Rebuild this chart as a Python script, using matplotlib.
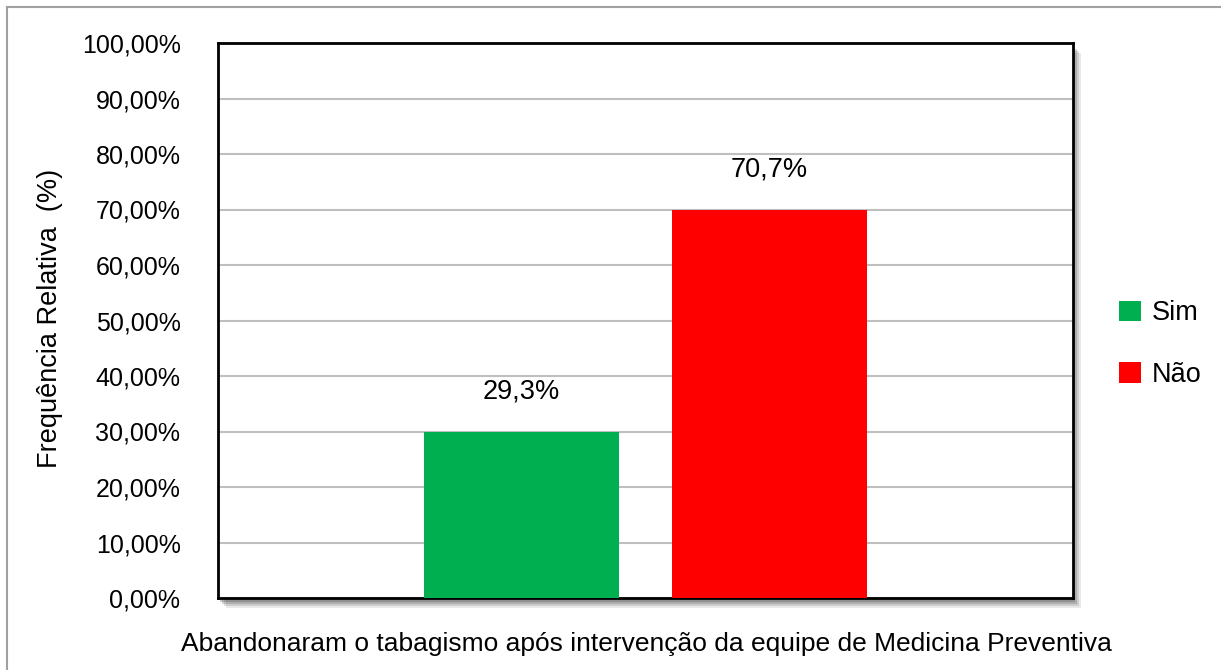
import matplotlib
matplotlib.use("Agg")
import matplotlib.pyplot as plt
from matplotlib.patches import Patch, Rectangle
from matplotlib.lines import Line2D

plt.rcParams['font.family'] = ['Liberation Sans', 'DejaVu Sans']

categories = ["Sim", "Não"]
heights = [30, 70]            # bar heights as drawn
labels = ["29,3%", "70,7%"]   # data labels as printed
colors = ["#00B050", "#FF0000"]
positions = [-0.29, 0.29]
yticks = list(range(0, 101, 10))
ytick_labels = ["%d,00%%" % v for v in yticks]

W, H = 1221, 670
fig = plt.figure(figsize=(W / 100, H / 100), dpi=100)

# outer frame (left and top only visible)
fig.add_artist(Line2D([7 / W, 7 / W], [0, 1 - 7 / H], color="#A0A0A0", lw=1.5))
fig.add_artist(Line2D([7 / W, 1], [1 - 7 / H, 1 - 7 / H], color="#A0A0A0", lw=1.5))

x0, x1, ytop, ybot = 218, 1073, 43, 598
ax = fig.add_axes([x0 / W, 1 - ybot / H, (x1 - x0) / W, (ybot - ytop) / H])

# drop shadow behind the plot area
for off, a in [(9, 0.12), (7, 0.18), (5, 0.25), (3, 0.3)]:
    fig.add_artist(Rectangle(((x0 + off - 1) / W, 1 - (ybot + off + 1) / H),
                             (x1 - x0) / W, (ybot - ytop) / H,
                             transform=fig.transFigure, facecolor="#505050",
                             edgecolor="none", alpha=a, zorder=0))
ax.set_zorder(1)

ax.bar(positions, heights, width=0.454, color=colors, zorder=3)
for p, h, t in zip(positions, heights, labels):
    ax.annotate(t, (p, h), xytext=(0, 29), textcoords="offset points",
                ha="center", va="center", fontsize=19.5)

ax.set_xlim(-1, 1)
ax.set_ylim(0, 100)
ax.set_yticks(yticks)
ax.set_yticklabels(ytick_labels, fontsize=18)
ax.set_xticks([])
ax.tick_params(axis="y", length=0, pad=27)
ax.grid(axis="y", color="#BFBFBF", lw=1.5, zorder=0)
for s in ax.spines.values():
    s.set_linewidth(2)
    s.set_color("black")

fig.text(646 / W, 1 - 644 / H,
         "Abandonaram o tabagismo após intervenção da equipe de Medicina Preventiva",
         ha="center", va="center", fontsize=19)
fig.text(50 / W, 1 - 318 / H, "Frequência Relativa  (%)", rotation=90,
         ha="center", va="center", fontsize=19.5)

handles = [Patch(facecolor=c, edgecolor="none") for c in colors]
fig.legend(handles, categories, loc="center left",
           bbox_to_anchor=(1119 / W, 1 - 344 / H), frameon=False,
           fontsize=19.5, handlelength=0.8, handleheight=0.8,
           handletextpad=0.4, labelspacing=1.3, borderpad=0, borderaxespad=0)

fig.savefig("out.png", dpi=100, facecolor="white")
